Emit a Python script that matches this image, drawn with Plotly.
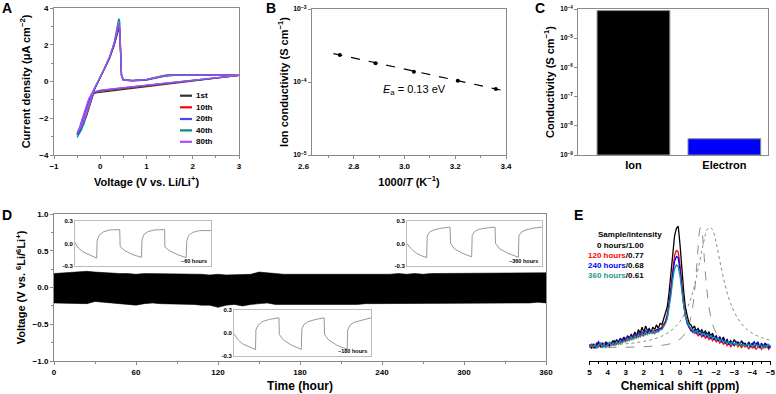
import plotly.graph_objects as go

W, H = 776, 394
def px(x): return x / W
def py(y): return 1 - y / H

FONT = "Arial, 'Liberation Sans', sans-serif"

# ---------------- Panel A: CV cycles ----------------
cv_voltage = [3.0, 2.5, 2.0, 1.5, 1.0, 0.5, 0.0, -0.1, -0.15, -0.2, -0.3, -0.4, -0.5,
              -0.45, -0.35, -0.25, -0.15, -0.1, 0.0, 0.1, 0.2, 0.3, 0.36, 0.4, 0.42,
              0.44, 0.46, 0.5, 0.7, 1.0, 1.2, 1.4, 1.6, 2.0, 2.5, 3.0]
cv_1st = [0.33, 0.18, 0.02, -0.12, -0.27, -0.4, -0.55, -0.62, -0.68, -1.1, -1.9, -2.5, -2.9,
          -2.6, -1.8, -1.05, -0.55, -0.3, 0.2, 0.7, 1.25, 1.95, 2.5, 2.85, 2.7,
          1.2, 0.3, 0.08, 0.04, 0.08, 0.18, 0.3, 0.34, 0.35, 0.35, 0.33]
cv_10th = [0.33, 0.19, 0.04, -0.1, -0.24, -0.37, -0.52, -0.6, -0.65, -1.05, -1.85, -2.45, -2.85,
           -2.55, -1.75, -1.0, -0.52, -0.28, 0.22, 0.72, 1.28, 2.0, 2.6, 2.95, 2.8,
           1.3, 0.32, 0.08, 0.05, 0.1, 0.2, 0.32, 0.36, 0.37, 0.36, 0.33]
cv_20th = [0.33, 0.2, 0.06, -0.08, -0.22, -0.35, -0.5, -0.57, -0.62, -1.0, -1.8, -2.5, -2.9,
           -2.6, -1.8, -1.05, -0.5, -0.26, 0.24, 0.75, 1.3, 2.05, 2.65, 3.1, 2.9,
           1.3, 0.32, 0.08, 0.05, 0.1, 0.2, 0.32, 0.36, 0.36, 0.35, 0.33]
cv_40th = [0.33, 0.2, 0.06, -0.08, -0.22, -0.35, -0.5, -0.56, -0.6, -1.0, -1.85, -2.6, -3.05,
           -2.8, -2.3, -1.3, -0.55, -0.28, 0.22, 0.75, 1.32, 2.1, 2.8, 3.42, 3.3,
           1.4, 0.35, 0.1, 0.06, 0.12, 0.24, 0.34, 0.37, 0.37, 0.36, 0.33]
cv_80th = [0.33, 0.21, 0.08, -0.06, -0.2, -0.33, -0.47, -0.54, -0.58, -0.95, -1.75, -2.4, -2.8,
           -2.5, -1.7, -0.95, -0.5, -0.25, 0.25, 0.78, 1.35, 2.1, 2.7, 3.2, 3.0,
           1.35, 0.33, 0.08, 0.05, 0.1, 0.2, 0.32, 0.35, 0.36, 0.35, 0.33]
cycle_names = ["1st", "10th", "20th", "40th", "80th"]
cycle_currents = [cv_1st, cv_10th, cv_20th, cv_40th, cv_80th]
cycle_colors = ["#333333", "#ff0000", "#4646ff", "#008b8b", "#a64dff"]

# ---------------- Panel B: Arrhenius ----------------
inv_T = [2.745, 2.886, 3.037, 3.21, 3.36]
ion_cond = [2.35e-4, 1.8e-4, 1.38e-4, 1.04e-4, 8.0e-5]
fit_inv_T = [2.72, 3.38]
fit_cond = [2.45e-4, 7.75e-5]

# ---------------- Panel C: conductivities ----------------
cond_labels = ["Ion", "Electron"]
cond_values = [8.8e-5, 2.6e-9]
cond_colors = ["#000000", "#0000ff"]

# ---------------- Panel D: cycling ----------------
time_h = list(range(0, 361, 6))
v_upper = [0.19, 0.20, 0.20, 0.22, 0.22, 0.21, 0.20, 0.20, 0.19, 0.19,
           0.18, 0.19, 0.19, 0.18, 0.18, 0.18, 0.18, 0.18, 0.18, 0.17,
           0.18, 0.17, 0.17, 0.17, 0.18, 0.21, 0.20, 0.18, 0.18, 0.18,
           0.18, 0.17, 0.17, 0.17, 0.17, 0.17, 0.17, 0.17, 0.17, 0.17,
           0.18, 0.18, 0.19, 0.18, 0.19, 0.18, 0.19, 0.19, 0.19, 0.19,
           0.19, 0.19, 0.19, 0.19, 0.19, 0.19, 0.19, 0.19, 0.20, 0.20, 0.20]
v_lower = [-0.21, -0.21, -0.21, -0.21, -0.22, -0.19, -0.20, -0.21, -0.21, -0.23,
           -0.24, -0.22, -0.21, -0.22, -0.22, -0.22, -0.23, -0.23, -0.24, -0.24,
           -0.27, -0.24, -0.23, -0.25, -0.23, -0.22, -0.21, -0.23, -0.23, -0.23,
           -0.24, -0.23, -0.23, -0.23, -0.23, -0.23, -0.23, -0.23, -0.22, -0.22,
           -0.22, -0.22, -0.22, -0.21, -0.21, -0.21, -0.21, -0.21, -0.21, -0.21,
           -0.22, -0.21, -0.21, -0.21, -0.21, -0.21, -0.21, -0.21, -0.21, -0.20, -0.21]

inset60_t = [0.0, 0.024, 0.061, 0.11, 0.159, 0.163, 0.178, 0.207, 0.256, 0.329, 0.332, 0.366, 0.427, 0.488,
             0.493, 0.507, 0.537, 0.585, 0.659, 0.661, 0.695, 0.756, 0.817, 0.822, 0.837, 0.866, 0.915, 1.0]
inset60_v = [0.01, -0.06, -0.115, -0.16, -0.196, 0.04, 0.11, 0.156, 0.183, 0.187, -0.04, -0.097, -0.151, -0.187,
             0.052, 0.12, 0.16, 0.183, 0.187, -0.047, -0.097, -0.151, -0.19, 0.04, 0.11, 0.15, 0.174, 0.174]
inset180_t = [0.0, 0.025, 0.06, 0.11, 0.157, 0.16, 0.175, 0.205, 0.26, 0.328, 0.331, 0.36, 0.42, 0.491,
              0.495, 0.51, 0.54, 0.6, 0.658, 0.661, 0.69, 0.75, 0.826, 0.83, 0.845, 0.875, 0.93, 1.0]
inset180_v = [-0.01, -0.08, -0.14, -0.185, -0.22, 0.04, 0.1, 0.15, 0.18, 0.2, -0.02, -0.09, -0.16, -0.215,
              0.05, 0.11, 0.15, 0.18, 0.2, -0.02, -0.09, -0.16, -0.215, 0.04, 0.1, 0.14, 0.17, 0.2]
inset360_t = [0.0, 0.025, 0.06, 0.1, 0.146, 0.15, 0.165, 0.195, 0.25, 0.319, 0.323, 0.35, 0.41, 0.479,
              0.483, 0.5, 0.53, 0.59, 0.652, 0.656, 0.685, 0.745, 0.825, 0.829, 0.845, 0.875, 0.93, 1.0]
inset360_v = [0.0, -0.06, -0.12, -0.16, -0.19, 0.1, 0.15, 0.18, 0.205, 0.22, 0.0, -0.07, -0.13, -0.18,
              0.11, 0.16, 0.19, 0.21, 0.22, 0.0, -0.07, -0.13, -0.185, 0.1, 0.15, 0.18, 0.205, 0.22]
inset_labels = ["~60 hours", "~180 hours", "~360 hours"]

# ---------------- Panel E: NMR ----------------
ppm = [round(5 - 0.1 * i, 1) for i in range(101)]
nmr_0h = [0.02, 0.00, 0.03, 0.01, 0.02, 0.04, 0.01, 0.03, 0.02, 0.05,
          0.02, 0.04, 0.03, 0.06, 0.03, 0.07, 0.04, 0.08, 0.06, 0.09,
          0.06, 0.10, 0.08, 0.11, 0.09, 0.13, 0.10, 0.15, 0.12, 0.17,
          0.13, 0.18, 0.14, 0.16, 0.13, 0.17, 0.15, 0.19, 0.16, 0.20,
          0.19, 0.24, 0.27, 0.34, 0.46, 0.61, 0.80, 0.92, 0.98, 1.00,
          0.85, 0.64, 0.47, 0.33, 0.27, 0.20, 0.19, 0.16, 0.18, 0.14,
          0.16, 0.13, 0.15, 0.12, 0.14, 0.11, 0.13, 0.10, 0.12, 0.08,
          0.10, 0.07, 0.09, 0.06, 0.09, 0.05, 0.07, 0.04, 0.06, 0.03,
          0.07, 0.04, 0.05, 0.02, 0.06, 0.03, 0.04, 0.01, 0.05, 0.02,
          0.04, 0.00, 0.03, 0.05, 0.01, 0.03, 0.00, 0.04, 0.01, 0.02, 0.00]
nmr_120h = [0.01, 0.03, 0.00, 0.02, 0.04, 0.01, 0.03, 0.00, 0.04, 0.02,
            0.03, 0.01, 0.05, 0.02, 0.05, 0.03, 0.06, 0.04, 0.07, 0.05,
            0.08, 0.06, 0.09, 0.07, 0.10, 0.08, 0.11, 0.09, 0.12, 0.10,
            0.13, 0.11, 0.14, 0.12, 0.14, 0.12, 0.15, 0.13, 0.16, 0.15,
            0.17, 0.19, 0.22, 0.28, 0.37, 0.50, 0.65, 0.76, 0.80, 0.79,
            0.68, 0.52, 0.38, 0.27, 0.21, 0.17, 0.14, 0.15, 0.12, 0.13,
            0.10, 0.12, 0.09, 0.11, 0.08, 0.10, 0.07, 0.09, 0.06, 0.08,
            0.05, 0.07, 0.04, 0.06, 0.03, 0.05, 0.02, 0.04, 0.01, 0.03,
            0.02, 0.04, 0.01, 0.03, 0.00, 0.03, 0.01, 0.02, -0.01, 0.02,
            0.00, 0.02, -0.01, 0.01, 0.02, -0.01, 0.01, 0.00, 0.02, -0.01, 0.01]
nmr_240h = [0.03, 0.01, 0.02, 0.00, 0.03, 0.05, 0.02, 0.04, 0.01, 0.03,
            0.04, 0.02, 0.04, 0.03, 0.06, 0.04, 0.05, 0.07, 0.05, 0.08,
            0.06, 0.09, 0.07, 0.10, 0.08, 0.11, 0.09, 0.12, 0.10, 0.13,
            0.11, 0.14, 0.12, 0.15, 0.13, 0.14, 0.12, 0.15, 0.14, 0.16,
            0.16, 0.18, 0.21, 0.26, 0.35, 0.47, 0.61, 0.71, 0.75, 0.74,
            0.64, 0.49, 0.36, 0.26, 0.20, 0.17, 0.15, 0.13, 0.15, 0.12,
            0.14, 0.11, 0.13, 0.10, 0.12, 0.09, 0.11, 0.08, 0.10, 0.07,
            0.09, 0.06, 0.08, 0.05, 0.07, 0.04, 0.06, 0.03, 0.05, 0.04,
            0.02, 0.05, 0.03, 0.04, 0.02, 0.04, 0.01, 0.03, 0.04, 0.01,
            0.03, 0.05, 0.02, 0.03, 0.00, 0.04, 0.02, 0.01, 0.03, 0.00, 0.02]
nmr_360h = [0.00, 0.02, 0.01, 0.03, 0.00, 0.02, 0.04, 0.01, 0.03, 0.00,
            0.03, 0.05, 0.02, 0.04, 0.02, 0.05, 0.03, 0.06, 0.04, 0.06,
            0.05, 0.08, 0.06, 0.09, 0.07, 0.10, 0.08, 0.11, 0.09, 0.12,
            0.10, 0.13, 0.11, 0.13, 0.12, 0.14, 0.12, 0.14, 0.13, 0.15,
            0.15, 0.17, 0.20, 0.24, 0.32, 0.43, 0.56, 0.65, 0.68, 0.67,
            0.59, 0.46, 0.35, 0.26, 0.21, 0.18, 0.16, 0.14, 0.13, 0.14,
            0.12, 0.13, 0.11, 0.12, 0.10, 0.11, 0.09, 0.10, 0.08, 0.09,
            0.07, 0.08, 0.06, 0.07, 0.05, 0.06, 0.04, 0.05, 0.03, 0.05,
            0.03, 0.04, 0.02, 0.04, 0.02, 0.03, 0.01, 0.03, 0.02, 0.03,
            0.01, 0.02, 0.03, 0.01, 0.03, 0.02, 0.00, 0.02, 0.01, 0.03, 0.01]
nmr_series = [nmr_0h, nmr_120h, nmr_240h, nmr_360h]
nmr_names = ["0 hours", "120 hours", "240 hours", "360 hours"]
nmr_ratios = ["1.00", "0.77", "0.68", "0.61"]
nmr_colors = ["#000000", "#ff0000", "#0000ff", "#1a9a8a"]

ref_narrow_ppm = [5, 4, 3, 2, 1, 0.5, 0, -0.3, -0.5, -0.7, -0.85, -1.0, -1.1, -1.15, -1.2, -1.3,
                  -1.45, -1.6, -1.8, -2.0, -2.3, -2.8, -3.5, -4.2, -5]
ref_narrow_int = [0.003, 0.004, 0.006, 0.010, 0.022, 0.036, 0.072, 0.124, 0.195, 0.336, 0.532, 0.82,
                  0.976, 0.99, 0.976, 0.82, 0.532, 0.336, 0.195, 0.124, 0.072, 0.036, 0.018, 0.011, 0.007]
ref_broad_ppm = [5, 4, 3, 2.5, 2, 1.5, 1, 0.5, 0, -0.5, -0.8, -1.1, -1.3, -1.5, -1.65, -1.8, -2.0,
                 -2.2, -2.5, -2.8, -3.2, -3.6, -4.0, -4.5, -5]
ref_broad_int = [0.017, 0.023, 0.034, 0.042, 0.054, 0.071, 0.097, 0.141, 0.217, 0.364, 0.512, 0.715,
                 0.861, 0.971, 0.99, 0.971, 0.861, 0.715, 0.512, 0.364, 0.24, 0.166, 0.12, 0.085, 0.063]

fig = go.Figure()

# A
for name, cur, col in zip(cycle_names, cycle_currents, cycle_colors):
    fig.add_trace(go.Scatter(x=cv_voltage, y=cur, mode="lines", name=name,
                             line=dict(color=col, width=1.3), showlegend=False,
                             xaxis="x", yaxis="y"))
# B
fig.add_trace(go.Scatter(x=fit_inv_T, y=fit_cond, mode="lines", showlegend=False,
                         line=dict(color="black", width=1.2, dash="dash"), xaxis="x2", yaxis="y2"))
fig.add_trace(go.Scatter(x=inv_T, y=ion_cond, mode="markers", showlegend=False,
                         marker=dict(color="black", size=4), xaxis="x2", yaxis="y2"))
# C
fig.add_trace(go.Bar(x=cond_labels, y=cond_values, base=1e-9, width=0.8, showlegend=False,
                     marker=dict(color=cond_colors, line=dict(color="#8a8a8a", width=1)),
                     xaxis="x3", yaxis="y3"))
# D
fig.add_trace(go.Scatter(x=time_h, y=v_upper, mode="lines", showlegend=False,
                         line=dict(color="black", width=0.6), xaxis="x4", yaxis="y4"))
fig.add_trace(go.Scatter(x=time_h, y=v_lower, mode="lines", showlegend=False, fill="tonexty",
                         fillcolor="black", line=dict(color="black", width=0.6),
                         xaxis="x4", yaxis="y4"))
for (t, v), ax in zip([(inset60_t, inset60_v), (inset180_t, inset180_v), (inset360_t, inset360_v)],
                      ["5", "6", "7"]):
    fig.add_trace(go.Scatter(x=t, y=v, mode="lines", showlegend=False,
                             line=dict(color="#8c8c8c", width=0.9), xaxis="x" + ax, yaxis="y" + ax))
# E
fig.add_trace(go.Scatter(x=ref_narrow_ppm, y=ref_narrow_int, mode="lines", showlegend=False,
                         line=dict(color="#8c8c8c", width=1, dash="dash", shape="spline"),
                         xaxis="x8", yaxis="y8"))
fig.add_trace(go.Scatter(x=ref_broad_ppm, y=ref_broad_int, mode="lines", showlegend=False,
                         line=dict(color="#8c8c8c", width=1, dash="dot", shape="spline"),
                         xaxis="x8", yaxis="y8"))
for ys, nm, col in zip(nmr_series, nmr_names, nmr_colors):
    fig.add_trace(go.Scatter(x=ppm, y=ys, mode="lines", name=nm, showlegend=False,
                             line=dict(color=col, width=1.3), xaxis="x8", yaxis="y8"))

GRAY = "#8a8a8a"
tickf = dict(size=8, family=FONT, color="black", weight="bold")
titlef = dict(size=11, family=FONT, color="black", weight="bold")

def frame(**kw):
    d = dict(showline=True, linecolor=GRAY, linewidth=1, mirror=True, ticks="outside",
             ticklen=3, tickcolor=GRAY, showgrid=False, zeroline=False, tickfont=tickf,
             automargin=False)
    d.update(kw)
    return d

B_LEFT = 2.6 + 9 / 253.75  # frame starts just right of the 2.6 label

layout = dict(
    width=W, height=H, margin=dict(l=0, r=0, t=0, b=0),
    paper_bgcolor="white", plot_bgcolor="white", template="none",
    font=dict(family=FONT, color="black"), showlegend=False,
    xaxis=frame(domain=[px(54), px(239)], anchor="y", range=[-1, 3], dtick=1,
                minor=dict(dtick=0.5, ticks="outside", ticklen=2, tickcolor=GRAY),
                title=dict(text="Voltage (V vs. Li/Li<sup>+</sup>)", font=titlef, standoff=8)),
    yaxis=frame(domain=[py(155), py(8)], anchor="x", range=[-4, 4], dtick=2,
                minor=dict(dtick=1, ticks="outside", ticklen=2, tickcolor=GRAY),
                title=dict(text="Current density (μA cm<sup>−2</sup>)", font=titlef, standoff=6)),
    xaxis2=frame(domain=[px(312), px(506)], anchor="y2", range=[B_LEFT, 3.4],
                 tickvals=[2.8, 3.0, 3.2, 3.4], tickformat=".1f",
                 minor=dict(tickvals=[2.7, 2.9, 3.1, 3.3], ticks="outside", ticklen=2, tickcolor=GRAY),
                 title=dict(text="1000/<i>T</i> (K<sup>−1</sup>)", font=titlef, standoff=8)),
    yaxis2=frame(domain=[py(155), py(9)], anchor="x2", type="log", range=[-5, -3],
                 tickvals=[1e-5, 1e-4, 1e-3],
                 ticktext=["10<sup>−5</sup>", "10<sup>−4</sup>", "10<sup>−3</sup>"],
                 tickfont=dict(size=7, family=FONT, color="black", weight="bold"),
                 title=dict(text="Ion conductivity (S cm<sup>−1</sup>)", font=titlef, standoff=2)),
    xaxis3=frame(domain=[px(578), px(768)], anchor="y3", range=[-0.61, 1.48], ticks="",
                 tickfont=dict(size=11, family=FONT, color="black", weight="bold")),
    yaxis3=frame(domain=[py(155), py(9)], anchor="x3", type="log", range=[-9, -4],
                 tickvals=[1e-9, 1e-8, 1e-7, 1e-6, 1e-5, 1e-4],
                 ticktext=["10<sup>−9</sup>", "10<sup>−8</sup>", "10<sup>−7</sup>",
                           "10<sup>−6</sup>", "10<sup>−5</sup>", "10<sup>−4</sup>"],
                 tickfont=dict(size=6.5, family=FONT, color="black", weight="bold"),
                 title=dict(text="Conductivity (S cm<sup>−1</sup>)", font=titlef, standoff=3)),
    xaxis4=frame(domain=[px(54), px(546)], anchor="y4", range=[0, 360], dtick=60,
                 minor=dict(dtick=30, ticks="outside", ticklen=2, tickcolor=GRAY),
                 title=dict(text="Time (hour)", font=dict(size=12, family=FONT, color="black",
                                                          weight="bold"), standoff=6)),
    yaxis4=frame(domain=[py(361), py(214)], anchor="x4", range=[-1, 1], dtick=0.5,
                 tickformat=".1f",
                 minor=dict(dtick=0.25, ticks="outside", ticklen=2, tickcolor=GRAY),
                 title=dict(text="Voltage (V vs. <sup>6</sup>Li/<sup>6</sup>Li<sup>+</sup>)",
                            font=titlef, standoff=4)),
    xaxis8=dict(domain=[px(589), px(771)], anchor="y8", range=[5.03, -5.03], dtick=1,
                showline=True, linecolor="black", linewidth=1, mirror=False, ticks="outside",
                ticklen=3, tickcolor="black", showgrid=False, zeroline=False, tickfont=tickf,
                automargin=False,
                minor=dict(dtick=0.5, ticks="outside", ticklen=2, tickcolor="black"),
                title=dict(text="Chemical shift (ppm)",
                           font=dict(size=12, family=FONT, color="black", weight="bold"), standoff=6)),
    yaxis8=dict(domain=[py(361), py(222)], anchor="x8", range=[-0.107, 1.033], visible=False),
)

inset_domains = [([75, 211], [221, 266]), ([234, 371], [310, 356]), ([407, 542], [221, 266])]
for ax, (xd, yd) in zip(["5", "6", "7"], inset_domains):
    layout["xaxis" + ax] = dict(domain=[px(xd[0]), px(xd[1])], anchor="y" + ax, range=[0, 1],
                                showline=True, mirror=True, linecolor="#bdbdbd", linewidth=1,
                                ticks="", showticklabels=False, showgrid=False, zeroline=False)
    layout["yaxis" + ax] = dict(domain=[py(yd[1]), py(yd[0])], anchor="x" + ax,
                                range=[-0.303, 0.303], tickvals=[-0.3, 0, 0.3],
                                ticktext=["-0.3", "0.0", "0.3"], showline=True, mirror=True,
                                linecolor="#bdbdbd", linewidth=1, ticks="", showgrid=False,
                                zeroline=False,
                                tickfont=dict(size=6, family=FONT, color="black", weight="bold"))
fig.update_layout(**layout)

ann = []
# panel letters
for letter, x, y in [("A", 7, 8), ("B", 271, 8), ("C", 540, 8), ("D", 7, 215), ("E", 578, 215)]:
    ann.append(dict(text=letter, x=px(x), y=py(y), xref="paper", yref="paper", showarrow=False,
                    xanchor="center", yanchor="middle",
                    font=dict(size=14, family=FONT, color="black", weight="bold")))
# B: first x tick label, drawn left of the frame as in the source figure
ann.append(dict(text="2.6", x=px(304), y=py(166), xref="paper", yref="paper", showarrow=False,
                xanchor="center", yanchor="middle", font=tickf))
# A legend
leg_y = [95.7, 107.3, 119.0, 130.4, 141.8]
shapes = []
for name, col, y in zip(cycle_names, cycle_colors, leg_y):
    shapes.append(dict(type="line", xref="paper", yref="paper", x0=px(180), x1=px(192),
                       y0=py(y), y1=py(y), line=dict(color=col, width=2.2)))
    ann.append(dict(text=name, x=px(194), y=py(y), xref="paper", yref="paper", showarrow=False,
                    xanchor="left", yanchor="middle",
                    font=dict(size=8, family=FONT, color="black", weight="bold")))
# B activation energy
ann.append(dict(text="<i>E</i><sub>a</sub> = 0.13 eV", x=3.04, y=-4.115, xref="x2", yref="y2",
                showarrow=False, xanchor="center", yanchor="middle",
                font=dict(size=11, family=FONT, color="black")))
# D inset labels
for lab, (x, y) in zip(inset_labels, [(209, 261), (369, 351), (540, 261)]):
    ann.append(dict(text=lab, x=px(x), y=py(y), xref="paper", yref="paper", showarrow=False,
                    xanchor="right", yanchor="middle",
                    font=dict(size=5.5, family=FONT, color="black", weight="bold")))
# E legend
ann.append(dict(text="Sample/intensity", x=px(596), y=py(235), xref="paper", yref="paper",
                showarrow=False, xanchor="left", yanchor="middle",
                font=dict(size=8, family=FONT, color="black", weight="bold")))
for nm, r, col, y in zip(nmr_names, nmr_ratios, nmr_colors, [245.5, 255.5, 265.5, 275.5]):
    ann.append(dict(text=f"<span style='color:{col}'>{nm}</span>/{r}", x=px(646), y=py(y),
                    xref="paper", yref="paper", showarrow=False, xanchor="right", yanchor="middle",
                    font=dict(size=8, family=FONT, color="black", weight="bold")))
fig.update_layout(annotations=ann, shapes=shapes)

fig.write_html("out.html", config={"displayModeBar": False},
               post_script="document.body.style.margin='0px';document.body.style.padding='0px';")
